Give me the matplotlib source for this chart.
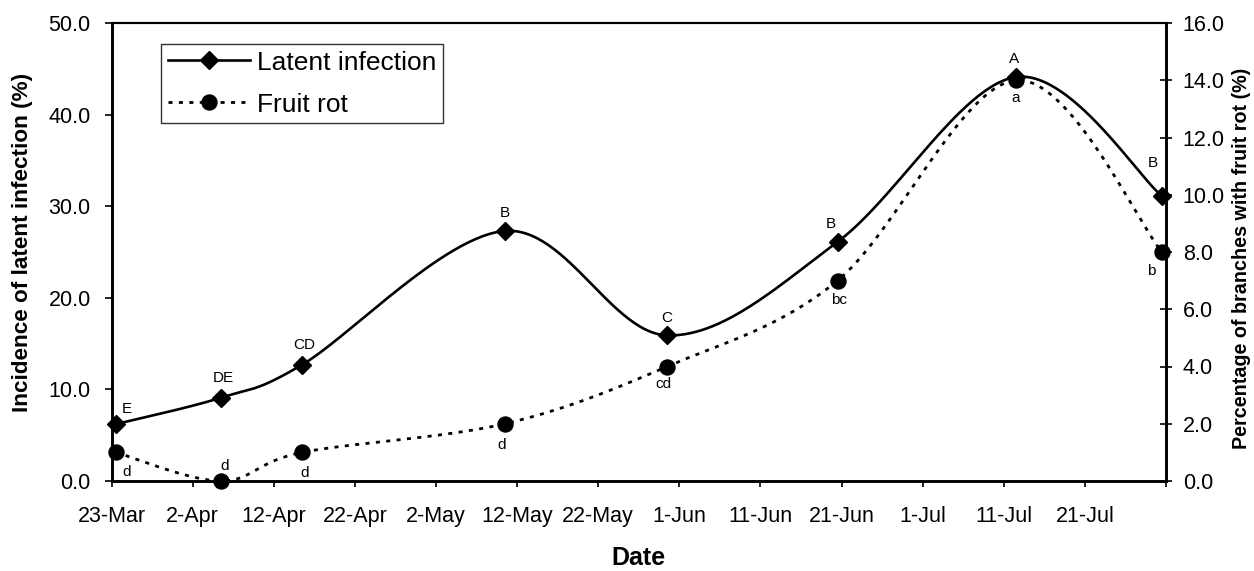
import numpy as np
import pandas as pd
import matplotlib
matplotlib.use("Agg")
import matplotlib.pyplot as plt
import matplotlib.dates as mdates
from matplotlib.lines import Line2D

plt.rcParams['font.family'] = ['Liberation Sans', 'DejaVu Sans']

# ---- data ---------------------------------------------------------------
year = 2003
sample_dates = ["23-Mar", "5-Apr", "15-Apr", "10-May", "30-May", "20-Jun", "12-Jul", "30-Jul"]
sample_hour = 12  # samples logged at midday
latent_infection = [6.2, 9.1, 12.7, 27.3, 15.9, 26.1, 44.1, 31.1]   # %, left axis
fruit_rot = [1.0, 0.0, 1.0, 2.0, 4.0, 7.0, 14.0, 8.0]               # %, right axis
latent_letters = ["E", "DE", "CD", "B", "C", "B", "A", "B"]
fruit_letters = ["d", "d", "d", "d", "cd", "bc", "a", "b"]

tick_labels = ["23-Mar", "2-Apr", "12-Apr", "22-Apr", "2-May", "12-May", "22-May",
               "1-Jun", "11-Jun", "21-Jun", "1-Jul", "11-Jul", "21-Jul", "31-Jul"]
shown_tick_labels = tick_labels[:-1] + [""]

left_ticks = [0.0, 10.0, 20.0, 30.0, 40.0, 50.0]
right_ticks = [0.0, 2.0, 4.0, 6.0, 8.0, 10.0, 12.0, 14.0, 16.0]


def to_num(labels, hour=0):
    ts = pd.to_datetime([f"{d}-{year}" for d in labels], format="%d-%b-%Y")
    ts = ts + pd.Timedelta(hours=hour)
    return mdates.date2num(ts.to_pydatetime())


x = to_num(sample_dates, sample_hour)
xticks = to_num(tick_labels)


def smooth(xs, ys, n=60):
    """Piecewise cubic Bezier through the points (spreadsheet-style smoothing)."""
    P = np.column_stack([xs, ys]).astype(float)
    m = len(P)
    out = []
    for i in range(m - 1):
        p_prev = P[i - 1] if i > 0 else P[i]
        p_next2 = P[i + 2] if i + 2 < m else P[i + 1]
        b0 = P[i]
        b1 = P[i] + (P[i + 1] - p_prev) / 6.0
        b2 = P[i + 1] - (p_next2 - P[i]) / 6.0
        b3 = P[i + 1]
        t = np.linspace(0, 1, n)[:, None]
        seg = ((1 - t) ** 3) * b0 + 3 * ((1 - t) ** 2) * t * b1 + 3 * (1 - t) * t ** 2 * b2 + t ** 3 * b3
        out.append(seg if i == 0 else seg[1:])
    c = np.vstack(out)
    return c[:, 0], c[:, 1]


# ---- figure -------------------------------------------------------------
W, H = 1254, 571
fig = plt.figure(figsize=(W / 100, H / 100), dpi=100)
fig.patch.set_facecolor("white")
ax = fig.add_axes([111.6 / W, 1 - 481 / H, (1166 - 111.6) / W, (481 - 23) / H])
ax2 = ax.twinx()

lw_line = 1.9
diamond_ms = 9.5
circle_ms = 10.8

# latent infection: solid smoothed line with diamonds
sx, sy = smooth(x, latent_infection)
ax.plot(sx, sy, color="black", lw=lw_line, solid_capstyle="round", clip_on=False, zorder=3)
ax.plot(x, latent_infection, ls="none", marker="D", ms=diamond_ms, color="black",
        clip_on=False, zorder=4)

# fruit rot: dashed smoothed line with circles (right axis)
dash = (0, (1.45, 2.3))
fx, fy = smooth(x, fruit_rot)
ax2.plot(fx, fy, color="black", lw=2.0, ls=dash, dash_capstyle="butt", clip_on=False, zorder=3)
ax2.plot(x, fruit_rot, ls="none", marker="o", ms=circle_ms, color="black", clip_on=False, zorder=4)

# significance letters (offsets in pixels)
lat_off = [(11, 15), (2, 20), (2, 20), (0, 18), (0, 17), (-7, 18), (-2, 18), (-9, 33)]
fr_off = [(11, -20), (4, 15), (2, -21), (-3, -21), (-4, -18), (2, -19), (0, -18), (-11, -19)]
for xi, yi, t, o in zip(x, latent_infection, latent_letters, lat_off):
    ax.annotate(t, (xi, yi), xytext=(o[0] * 0.72, o[1] * 0.72), textcoords="offset points",
                ha="center", va="center", fontsize=11, zorder=6, annotation_clip=False)
for xi, yi, t, o in zip(x, fruit_rot, fruit_letters, fr_off):
    ax2.annotate(t, (xi, yi), xytext=(o[0] * 0.72, o[1] * 0.72), textcoords="offset points",
                 ha="center", va="center", fontsize=11, zorder=6, annotation_clip=False)

# axes ranges and ticks
ax.set_xlim(xticks[0], xticks[-1])
ax.set_ylim(left_ticks[0], left_ticks[-1])
ax2.set_ylim(right_ticks[0], right_ticks[-1])
ax.set_xticks(xticks)
ax.set_xticklabels(shown_tick_labels)
ax.set_yticks(left_ticks)
ax.set_yticklabels([f"{v:.1f}" for v in left_ticks])
ax2.set_yticks(right_ticks)
ax2.set_yticklabels([f"{v:.1f}" for v in right_ticks])

ax.tick_params(axis="x", direction="out", length=4, width=1.2, pad=14, labelsize=15.5)
ax.tick_params(axis="y", direction="out", length=5, width=1.2, pad=10, labelsize=15.5)
ax2.tick_params(axis="y", direction="inout", length=8, width=1.2, pad=8, labelsize=15.5)

for a in (ax, ax2):
    for s in a.spines.values():
        s.set_linewidth(1.9)
        s.set_color("black")
ax.spines["top"].set_linewidth(1.5)
ax2.spines["top"].set_linewidth(1.5)

# axis titles (label anchors given in pixels, converted to axes fractions)
ax_w, ax_h = 1166 - 111.6, 481 - 23
ax.set_xlabel("Date", fontsize=18, fontweight="bold")
ax.xaxis.set_label_coords(0.5, (481 - 546) / ax_h)
ax.set_ylabel("Incidence of latent infection (%)", fontsize=16.2, fontweight="bold")
ax.yaxis.set_label_coords((33 - 111.6) / ax_w, (481 - 242) / ax_h)
ax2.set_ylabel("Percentage of branches with fruit rot (%)", fontsize=14.2, fontweight="bold",
               rotation=90)
ax2.yaxis.set_label_coords((1232 - 111.6) / ax_w, (481 - 258) / ax_h)

# legend
handles = [
    Line2D([], [], color="black", lw=lw_line, marker="D", ms=diamond_ms),
    Line2D([], [], color="black", lw=2.0, ls=dash, dash_capstyle="butt", marker="o", ms=circle_ms),
]
leg = ax2.legend(handles, ["Latent infection", "Fruit rot"], loc="upper left",
                 bbox_to_anchor=(0.047, 0.954), fontsize=19, frameon=True, fancybox=False,
                 edgecolor="black", handlelength=3.1, handletextpad=0.3, borderpad=0.25,
                 labelspacing=0.68, borderaxespad=0.0, numpoints=1)
leg.get_frame().set_linewidth(1.0)

fig.savefig("out.png", dpi=100, facecolor="white")
